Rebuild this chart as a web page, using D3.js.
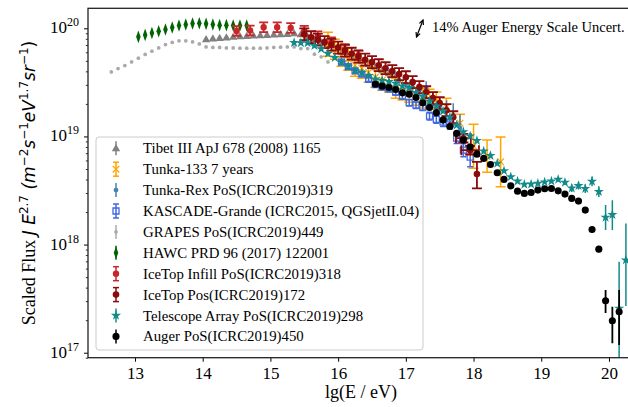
<!DOCTYPE html>
<html><head><meta charset="utf-8">
<script src="https://cdn.jsdelivr.net/npm/d3@7"></script>
<style>body{margin:0;background:#fff}svg{display:block}</style>
</head><body><svg id="c" width="628" height="407"></svg>
<script>
// ---------------- data (x: lg(E/eV), y: log10 of scaled flux) ----------------
const xTicks = [13,14,15,16,17,18,19,20];
const yDecades = [17,18,19,20];

const tibetLgE = [14.05,14.15,14.25,14.35,14.45,14.55,14.65,14.75,14.85,14.95,15.05,15.15,15.25,15.35,15.45,15.55,15.65,15.75,15.85,15.95,16.05,16.15,16.25,16.35,16.45,16.55,16.65,16.75,16.85];
const tibetLgJ = [19.899,19.906,19.911,19.915,19.921,19.927,19.930,19.933,19.936,19.939,19.943,19.945,19.948,19.955,19.945,19.922,19.895,19.872,19.844,19.811,19.779,19.751,19.724,19.696,19.668,19.640,19.613,19.585,19.557];

const tunka133LgE = [15.85,15.95,16.05,16.15,16.25,16.35,16.45,16.55,16.65,16.75,16.85,16.95,17.05,17.15,17.25,17.35,17.45,17.6,17.8,18.0,18.2,18.4];
const tunka133LgJ = [19.853,19.807,19.751,19.714,19.659,19.631,19.594,19.548,19.520,19.493,19.446,19.419,19.400,19.372,19.355,19.345,19.336,19.271,19.123,18.910,18.818,18.765];
const tunka133Err = [0.111,0.092,0.102,0.102,0.102,0.092,0.092,0.092,0.092,0.083,0.092,0.083,0.083,0.083,0.092,0.092,0.074,0.083,0.083,0.203,0.148,0.231];

const tunkaRexLgE = [16.9,17.0,17.1,17.2,17.3,17.4,17.5,17.6,17.7,17.8];
const tunkaRexLgJ = [19.520,19.483,19.456,19.428,19.446,19.336,19.280,19.243,19.197,19.077];
const tunkaRexErr = [0.046,0.046,0.046,0.055,0.065,0.074,0.083,0.092,0.111,0.129];

const kascadeLgE = [16.05,16.15,16.25,16.35,16.45,16.55,16.65,16.75,16.85,16.95,17.05,17.15,17.25,17.35,17.45,17.55,17.65,17.75,17.85,17.95];
const kascadeLgJ = [19.687,19.645,19.606,19.576,19.527,19.479,19.456,19.437,19.409,19.372,19.312,19.289,19.271,19.188,19.157,19.132,19.114,18.984,18.873,18.809];
const kascadeErr = [0.02,0.02,0.02,0.02,0.02,0.02,0.02,0.02,0.025,0.025,0.03,0.03,0.03,0.035,0.035,0.04,0.045,0.05,0.06,0.09];

const grapesLgE = [12.65,12.75,12.85,12.95,13.05,13.15,13.25,13.35,13.45,13.55,13.65,13.75,13.85,13.95,14.05,14.15,14.25,14.35,14.45,14.55,14.65,14.75,14.85,14.95,15.05,15.15,15.25,15.35,15.45,15.55,15.65,15.75,15.85];
const grapesLgJ = [19.597,19.628,19.656,19.689,19.724,19.758,19.788,19.819,19.850,19.869,19.884,19.884,19.874,19.856,19.828,19.823,19.823,19.819,19.819,19.816,19.816,19.816,19.816,19.819,19.823,19.825,19.828,19.828,19.813,19.813,19.761,19.736,19.689];

const hawcLgE = [13.05,13.15,13.25,13.35,13.45,13.55,13.65,13.75,13.85,13.95,14.05,14.15,14.25,14.35,14.45,14.55,14.65];
const hawcLgJ = [19.921,19.939,19.957,19.973,19.989,20.007,20.026,20.035,20.044,20.047,20.041,20.035,20.029,20.029,20.026,20.026,20.026];

const infillLgE = [14.5,14.7,14.9,15.1,15.3,15.5,15.7,15.9,16.1,16.3];
const infillLgJ = [19.976,19.980,20.010,20.010,20.003,19.978,19.927,19.872,19.807,19.751];

const icetopLgE = [15.5,15.6,15.7,15.8,15.9,16.0,16.1,16.2,16.3,16.4,16.5,16.6,16.7,16.8,16.9,17.0,17.1,17.2,17.3,17.4,17.5,17.6,17.7,17.85,17.95,18.05];
const icetopLgJ = [19.945,19.918,19.895,19.872,19.848,19.821,19.793,19.765,19.738,19.710,19.687,19.659,19.631,19.604,19.576,19.548,19.502,19.456,19.409,19.354,19.308,19.243,19.178,18.984,18.873,18.652];
const icetopErrLo = [0.055,0.055,0.055,0.055,0.055,0.055,0.055,0.055,0.055,0.055,0.055,0.055,0.055,0.055,0.055,0.055,0.055,0.055,0.055,0.055,0.055,0.055,0.055,0.04,0.04,0.133];
const icetopErrHi = [0.055,0.055,0.055,0.055,0.055,0.055,0.055,0.055,0.055,0.055,0.055,0.055,0.055,0.055,0.055,0.055,0.055,0.055,0.055,0.055,0.055,0.055,0.055,0.04,0.04,0.113];
const icetopXErr = [0,0,0,0,0,0,0,0,0,0,0,0,0,0,0,0,0,0,0,0,0,0,0,0.11,0.13,0];

const taLgE = [15.35,15.45,15.55,15.65,15.75,15.85,15.95,16.05,16.15,16.25,16.35,16.45,16.55,16.65,16.75,16.85,16.95,17.05,17.15,17.25,17.35,17.45,17.55,17.65,17.75,17.85,17.95,18.05,18.15,18.25,18.35,18.45,18.55,18.65,18.75,18.85,18.95,19.05,19.15,19.25,19.35,19.45,19.55,19.65,19.75,19.85,19.95,20.05,20.15,20.25];
const taLgJ = [19.867,19.865,19.865,19.839,19.809,19.767,19.728,19.687,19.647,19.608,19.590,19.562,19.530,19.516,19.506,19.490,19.465,19.451,19.405,19.372,19.326,19.280,19.234,19.178,19.104,19.043,19.003,18.961,18.864,18.823,18.750,18.682,18.627,18.587,18.556,18.559,18.566,18.578,18.587,18.603,18.575,18.522,18.545,18.518,18.584,18.490,18.251,18.277,17.410,17.857];
const taErrLo = [0,0,0,0,0,0,0,0,0,0,0,0,0,0,0,0,0,0,0,0,0,0,0,0,0,0,0,0,0,0,0,0,0,0,0,0,0,0,0,0.02,0.025,0.035,0.035,0.04,0.045,0.05,0.117,0.143,0.51,0.425];
const taErrHi = [0,0,0,0,0,0,0,0,0,0,0,0,0,0,0,0,0,0,0,0,0,0,0,0,0,0,0,0,0,0,0,0,0,0,0,0,0,0,0,0.02,0.025,0.035,0.035,0.04,0.045,0.05,0.114,0.134,0.431,0.339];

const augerLgE = [16.55,16.65,16.75,16.85,16.95,17.05,17.15,17.25,17.35,17.45,17.55,17.65,17.75,17.85,17.95,18.05,18.15,18.25,18.35,18.45,18.55,18.65,18.75,18.85,18.95,19.05,19.15,19.25,19.35,19.45,19.55,19.65,19.75,19.85,19.95,20.05,20.15];
const augerLgJ = [19.483,19.465,19.453,19.434,19.403,19.391,19.360,19.311,19.268,19.218,19.151,19.092,19.028,18.966,18.904,18.836,18.797,18.741,18.664,18.603,18.543,18.494,18.473,18.482,18.504,18.516,18.519,18.497,18.467,18.427,18.402,18.319,18.139,17.958,17.481,17.296,17.379];
const augerErrLo = [0,0,0,0,0,0,0,0,0,0,0,0,0,0,0,0,0,0,0,0,0,0,0,0,0,0,0,0,0,0,0.01,0.012,0.02,0.03,0.114,0.209,0.308];
const augerErrHi = [0,0,0,0,0,0,0,0,0,0,0,0,0,0,0,0,0,0,0,0,0,0,0,0,0,0,0,0,0,0,0.01,0.012,0.02,0.03,0.098,0.129,0.2];

const legendLabels = ["Tibet III ApJ 678 (2008) 1165","Tunka-133 7 years","Tunka-Rex PoS(ICRC2019)319","KASCADE-Grande (ICRC2015, QGSjetII.04)","GRAPES PoS(ICRC2019)449","HAWC PRD 96 (2017) 122001","IceTop Infill PoS(ICRC2019)318","IceTop Pos(ICRC2019)172","Telescope Array PoS(ICRC2019)298","Auger PoS(ICRC2019)450"];

// ---------------- drawing ----------------
const svg = d3.select("#c");
const L = 88, R = 628, T = 8.3, B = 357.7;
const x = d3.scaleLinear().domain([12.306, 20.281]).range([L, R]);
const y = d3.scaleLog().domain([Math.pow(10,16.954), Math.pow(10,20.185)]).range([B, T]);
const Y = v => y(Math.pow(10, v));

svg.append("rect").attr("width",628).attr("height",407).attr("fill","#fff");
svg.append("defs").append("clipPath").attr("id","clip").append("rect")
  .attr("x",L).attr("y",T).attr("width",R-L+10).attr("height",B-T);
const plot = svg.append("g").attr("clip-path","url(#clip)");

function marker(g, type, cx, cy, color, sz) {
  const sym = {triangle:d3.symbolTriangle, circle:d3.symbolCircle, square:d3.symbolSquare,
               diamond:d3.symbolDiamond, star:d3.symbolStar, x:d3.symbolTimes}[type];
  const p = g.append("path").attr("d", d3.symbol(sym, sz)());
  let tr = `translate(${cx},${cy})`;
  if (type === "diamond") tr += " scale(0.62,1)";
  if (type === "triangle") tr = `translate(${cx},${cy+0.6})`;
  p.attr("transform", tr);
  if (type === "x") p.attr("fill","none").attr("stroke",color).attr("stroke-width",1.3);
  else if (type === "square") p.attr("fill","none").attr("stroke",color).attr("stroke-width",1.3);
  else p.attr("fill",color);
}
const at = (a,i) => a == null ? 0 : (typeof a === "number" ? a : a[i]);

function drawSeries(s) {
  const g = plot.append("g");
  s.lgE.forEach((e,i) => {
    const v = s.lgJ[i], lo = at(s.lo,i), hi = at(s.hi,i), xe = at(s.xe,i);
    const cx = x(e), cy = Y(v);
    if (lo > 0 || hi > 0) {
      const y1 = Y(v+hi), y2 = Y(v-lo);
      g.append("line").attr("x1",cx).attr("x2",cx).attr("y1",y1).attr("y2",y2)
        .attr("stroke",s.color).attr("stroke-width",s.ew||1.5);
      if (s.cap) [y1,y2].forEach(yy => g.append("line").attr("x1",cx-s.cap).attr("x2",cx+s.cap)
        .attr("y1",yy).attr("y2",yy).attr("stroke",s.color).attr("stroke-width",s.ew||1.5));
    }
    if (xe > 0) {
      const x1 = x(e-xe), x2 = x(e+xe);
      g.append("line").attr("x1",x1).attr("x2",x2).attr("y1",cy).attr("y2",cy)
        .attr("stroke",s.color).attr("stroke-width",s.ew||1.5);
      [x1,x2].forEach(xx => g.append("line").attr("x1",xx).attr("x2",xx).attr("y1",cy-s.cap).attr("y2",cy+s.cap)
        .attr("stroke",s.color).attr("stroke-width",s.ew||1.5));
    }
    marker(g, s.sym, cx, cy, s.color, s.size);
  });
}

const series = [
  {lgE:tibetLgE, lgJ:tibetLgJ, color:"#808080", sym:"triangle", size:30},
  {lgE:tunka133LgE, lgJ:tunka133LgJ, lo:tunka133Err, hi:tunka133Err, color:"#ffa500", sym:"x", size:30, cap:5},
  {lgE:tunkaRexLgE, lgJ:tunkaRexLgJ, lo:tunkaRexErr, hi:tunkaRexErr, color:"#4682b4", sym:"circle", size:18},
  {lgE:kascadeLgE, lgJ:kascadeLgJ, lo:kascadeErr, hi:kascadeErr, color:"#4169e1", sym:"square", size:36, cap:3},
  {lgE:grapesLgE, lgJ:grapesLgJ, color:"#aaaaaa", sym:"circle", size:11},
  {lgE:hawcLgE, lgJ:hawcLgJ, lo:0.012, hi:0.012, color:"#006400", sym:"diamond", size:46},
  {lgE:infillLgE, lgJ:infillLgJ, lo:0.045, hi:0.045, color:"#c8262a", sym:"circle", size:32, cap:4.5, ew:1.8},
  {lgE:icetopLgE, lgJ:icetopLgJ, lo:icetopErrLo, hi:icetopErrHi, xe:icetopXErr, color:"#8b0a0a", sym:"circle", size:34, cap:5, ew:1.8},
  {lgE:taLgE, lgJ:taLgJ, lo:taErrLo, hi:taErrHi, color:"#138a8a", sym:"star", size:32},
  {lgE:augerLgE, lgJ:augerLgJ, lo:augerErrLo, hi:augerErrHi, color:"#000000", sym:"circle", size:40, ew:1.8}
];
series.forEach(drawSeries);

// axes
const fontSerif = "'Liberation Serif','Times New Roman',serif";
const xAxis = svg.append("g").attr("transform",`translate(0,${B})`)
  .call(d3.axisBottom(x).tickValues(xTicks).tickSize(4).tickPadding(4).tickFormat(d3.format("d")));
xAxis.select(".domain").remove();
xAxis.selectAll("text").attr("font-family",fontSerif).attr("font-size",17).attr("fill","#000").attr("dy","0.76em");
xAxis.selectAll("line").attr("stroke","#000").attr("stroke-width",1);

const minor = [];
for (let p = 16; p <= 20; p++) for (let m = 2; m <= 9; m++) { const v = m*Math.pow(10,p); if (v > y.domain()[0] && v < y.domain()[1]) minor.push(v); }
const yMinor = svg.append("g").attr("transform",`translate(${L},0)`)
  .call(d3.axisLeft(y).tickValues(minor).tickSize(2.2).tickFormat(""));
yMinor.select(".domain").remove();
yMinor.selectAll("line").attr("stroke","#000").attr("stroke-width",0.8);
const yMajor = svg.append("g").attr("transform",`translate(${L},0)`)
  .call(d3.axisLeft(y).tickValues(yDecades.map(p => Math.pow(10,p))).tickSize(4).tickFormat(""));
yMajor.select(".domain").remove();
yMajor.selectAll("line").attr("stroke","#000").attr("stroke-width",1);
yDecades.forEach(p => {
  const t = svg.append("text").attr("x",79).attr("y",Y(p)+5).attr("text-anchor","end")
    .attr("font-family",fontSerif).attr("font-size",17).attr("fill","#000");
  t.append("tspan").text("10");
  t.append("tspan").attr("dy",-7).attr("font-size",12).text(p);
});

// frame
svg.append("rect").attr("x",L).attr("y",T).attr("width",R-L+5).attr("height",B-T)
  .attr("fill","none").attr("stroke","#222").attr("stroke-width",1.3);

// axis labels
svg.append("text").attr("x",361).attr("y",398).attr("text-anchor","middle")
  .attr("font-family",fontSerif).attr("font-size",18).attr("fill","#000").text("lg(E / eV)");
const yl = svg.append("text").attr("transform","translate(35,183) rotate(-90)").attr("text-anchor","middle")
  .attr("font-size",18).attr("fill","#000");
const math = "'DejaVu Sans',sans-serif";
yl.append("tspan").attr("font-family",fontSerif).text("Scaled Flux ");
const parts = [["J E",0],["2.7",1],[" (m",0],["−2",1],["s",0],["−1",1],["eV",0],["1.7",1],["sr",0],["−1",1],[")",0]];
let sup = false;
parts.forEach(([s,isSup]) => {
  const ts = yl.append("tspan").attr("font-family",math).attr("font-size",isSup?12:17)
    .attr("font-style", /[A-Za-z]/.test(s) ? "italic" : "normal").text(s);
  if (isSup && !sup) ts.attr("dy",-7);
  if (!isSup && sup) ts.attr("dy",7);
  sup = !!isSup;
});

// annotation
const ann = svg.append("g");
ann.append("line").attr("x1",416.5).attr("y1",37).attr("x2",423).attr("y2",20).attr("stroke","#000").attr("stroke-width",1.2);
function head(xh,yh,xt,yt){
  const a = Math.atan2(yh-yt,xh-xt), l=5, w=0.45;
  ann.append("path").attr("d",`M${xh-l*Math.cos(a-w)},${yh-l*Math.sin(a-w)}L${xh},${yh}L${xh-l*Math.cos(a+w)},${yh-l*Math.sin(a+w)}`)
    .attr("fill","none").attr("stroke","#000").attr("stroke-width",1.2);
}
head(416.5,37,423,20); head(423,20,416.5,37);
ann.append("text").attr("x",432).attr("y",32).attr("font-family",fontSerif).attr("font-size",14.5).attr("fill","#000")
  .text("14% Auger Energy Scale Uncert.");

// legend
const lg = svg.append("g");
lg.append("rect").attr("x",96).attr("y",137).attr("width",327).attr("height",213).attr("rx",3)
  .attr("fill","#fff").attr("fill-opacity",0.85).attr("stroke","#cccccc").attr("stroke-width",1);
legendLabels.forEach((lab,i) => {
  const s = series[i], cy = 148.3 + i*20.9, cx = 116;
  lg.append("line").attr("x1",cx).attr("x2",cx).attr("y1",cy-7).attr("y2",cy+7).attr("stroke",s.color).attr("stroke-width",1.5);
  if (s.cap) [cy-7,cy+7].forEach(yy => lg.append("line").attr("x1",cx-3).attr("x2",cx+3).attr("y1",yy).attr("y2",yy).attr("stroke",s.color).attr("stroke-width",1.5));
  marker(lg, s.sym, cx, cy, s.color, s.size);
  lg.append("text").attr("x",143).attr("y",cy+5).attr("font-family",fontSerif).attr("font-size",14.8).attr("fill","#000").text(lab);
});
</script></body></html>
